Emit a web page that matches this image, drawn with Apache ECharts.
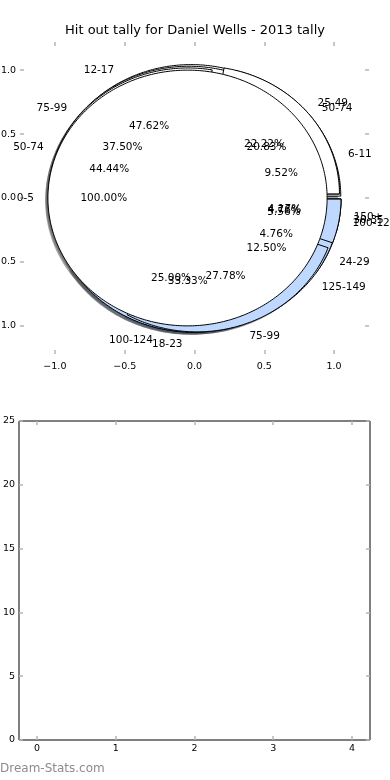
<!DOCTYPE html>
<html><head><meta charset="utf-8">
<script src="https://cdn.jsdelivr.net/npm/echarts@6/dist/echarts.min.js"></script>
<style>html,body{margin:0;padding:0;background:#fff}#c{width:390px;height:780px}</style>
</head><body><div id="c"></div>
<script>
const titleText = 'Hit out tally for Daniel Wells - 2013 tally';
const catsA = ['6-11','12-17','18-23','24-29','30-35'];
const valsA = [2,10,7,1,1];
const catsB = ['50-74','75-99','100-124','125-149','150+'];
const valsB = [5,9,6,3,1];
const catsC = ['25-49','50-74','75-99','100-124'];
const valsC = [4,8,5,1];
const catsD = ['0-5'];
const valsD = [1];
const pieTicks = [-1,-0.5,0,0.5,1];
const barXTicks = [0,1,2,3,4];
const barYTicks = [0,5,10,15,20,25];
const watermark = 'Dream-Stats.com';

const sliceColors = ['#ffffff','#ffffff','#bfd8ff','#bfd8ff','#ffffff'];
const EXPLODE = 0.05, R = 1, LABEL_D = 1.1, PCT_D = 0.6;
const FONT = 'DejaVu Sans';
const TICK_FS = 9.5;

const pies = [[catsA,valsA],[catsB,valsB],[catsC,valsC],[catsD,valsD]];
function geom(p, s) {
  const vals = pies[p][1];
  const tot = vals.reduce((a,b)=>a+b,0);
  let c = 0; for (let i=0;i<s;i++) c += vals[i];
  const t1 = c/tot*360, t2 = (c+vals[s])/tot*360;
  const mid = (t1+t2)/2*Math.PI/180;
  return {t1,t2,mid,frac:vals[s]/tot, cx: EXPLODE*Math.cos(mid), cy: EXPLODE*Math.sin(mid)};
}
const sliceData = [];
pies.forEach((pc,p)=>pc[1].forEach((v,s)=>sliceData.push([p,s])));

function wedgePoints(api, g, ox, oy) {
  const pts = [];
  const full = g.t2 - g.t1 >= 359.999;
  if (!full) pts.push(api.coord([g.cx+ox, g.cy+oy]));
  const n = Math.max(2, Math.ceil(g.t2-g.t1));
  for (let i=0;i<=n;i++){
    const a = (g.t1 + (g.t2-g.t1)*i/n)*Math.PI/180;
    pts.push(api.coord([g.cx+ox+R*Math.cos(a), g.cy+oy+R*Math.sin(a)]));
  }
  return pts;
}
function hexToRgb(h){return [parseInt(h.slice(1,3),16),parseInt(h.slice(3,5),16),parseInt(h.slice(5,7),16)];}
const fmt = v => (v<0?'\u2212':'') + Math.abs(v).toFixed(1);
const tickStyle = {color:'#b5b5b5', width:1.5};
const noLine = {show:false, onZero:false};

const chart = echarts.init(document.getElementById('c'), null, {renderer:'canvas'});
const option = {
  animation:false,
  backgroundColor:'#fff',
  graphic:[
    {type:'text', left:'center', top:24, style:{text:titleText, fill:'#000', fontSize:13, fontFamily:FONT}},
    {type:'text', left:0, top:763, style:{text:watermark, fill:'#8c8c8c', fontSize:12, fontFamily:FONT}}
  ],
  grid:[
    {left:20, top:42, width:349, height:312, show:false, containLabel:false, outerBoundsMode:'none'},
    {left:19, top:421, width:351, height:319, show:true, borderColor:'#000', borderWidth:1, backgroundColor:'#fff', containLabel:false, outerBoundsMode:'none'}
  ],
  xAxis:[
    {gridIndex:0, type:'value', min:-1.25, max:1.25, position:'bottom', axisLine:noLine, splitLine:{show:false},
     axisTick:{show:true, inside:true, length:4, lineStyle:tickStyle, customValues:pieTicks},
     axisLabel:{customValues:pieTicks, formatter:fmt, color:'#000', fontSize:TICK_FS, fontFamily:FONT, margin:8}},
    {gridIndex:0, type:'value', min:-1.25, max:1.25, position:'top', axisLine:noLine, splitLine:{show:false},
     axisTick:{show:true, inside:true, length:4, lineStyle:tickStyle, customValues:pieTicks}, axisLabel:{show:false}},
    {gridIndex:1, type:'value', min:-0.23, max:4.23, position:'bottom', axisLine:noLine, splitLine:{show:false},
     axisTick:{show:true, inside:true, length:4, lineStyle:tickStyle, customValues:barXTicks},
     axisLabel:{customValues:barXTicks, color:'#000', fontSize:TICK_FS, fontFamily:FONT, margin:4}},
    {gridIndex:1, type:'value', min:-0.23, max:4.23, position:'top', axisLine:noLine, splitLine:{show:false},
     axisTick:{show:true, inside:true, length:4, lineStyle:tickStyle, customValues:barXTicks}, axisLabel:{show:false}}
  ],
  yAxis:[
    {gridIndex:0, type:'value', min:-1.22, max:1.22, position:'left', axisLine:noLine, splitLine:{show:false},
     axisTick:{show:true, inside:true, length:4, lineStyle:tickStyle, customValues:pieTicks},
     axisLabel:{customValues:pieTicks, formatter:fmt, color:'#000', fontSize:TICK_FS, fontFamily:FONT, margin:4}},
    {gridIndex:0, type:'value', min:-1.22, max:1.22, position:'right', axisLine:noLine, splitLine:{show:false},
     axisTick:{show:true, inside:true, length:4, lineStyle:tickStyle, customValues:pieTicks}, axisLabel:{show:false}},
    {gridIndex:1, type:'value', min:0, max:25, interval:5, position:'left', axisLine:noLine, splitLine:{show:false},
     axisTick:{show:true, inside:true, length:4, lineStyle:tickStyle},
     axisLabel:{color:'#000', fontSize:TICK_FS, fontFamily:FONT, margin:4}},
    {gridIndex:1, type:'value', min:0, max:25, interval:5, position:'right', axisLine:noLine, splitLine:{show:false},
     axisTick:{show:true, inside:true, length:4, lineStyle:tickStyle}, axisLabel:{show:false}}
  ],
  series:[
    {type:'custom', name:'shadow', xAxisIndex:0, yAxisIndex:0, z:1, silent:true, data:sliceData,
     renderItem:(params, api)=>{
       const p = api.value(0), s = api.value(1);
       const g = geom(p,s);
       const rgb = hexToRgb(sliceColors[s]).map(v=>Math.round(v*0.3));
       return {type:'polygon', shape:{points:wedgePoints(api,g,-0.02,-0.02)},
               style:{fill:`rgba(${rgb[0]},${rgb[1]},${rgb[2]},0.5)`, stroke:null}};
     }},
    {type:'custom', name:'wedges', xAxisIndex:0, yAxisIndex:0, z:2, silent:true, data:sliceData,
     renderItem:(params, api)=>{
       const p = api.value(0), s = api.value(1);
       const g = geom(p,s);
       return {type:'polygon', shape:{points:wedgePoints(api,g,0,0)},
               style:{fill:sliceColors[s], stroke:'#000', lineWidth:1}};
     }},
    {type:'custom', name:'texts', xAxisIndex:0, yAxisIndex:0, z:3, silent:true, data:sliceData,
     renderItem:(params, api)=>{
       const p = api.value(0), s = api.value(1);
       const g = geom(p,s);
       const lx = g.cx + LABEL_D*Math.cos(g.mid), ly = g.cy + LABEL_D*Math.sin(g.mid);
       const px = g.cx + PCT_D*Math.cos(g.mid), py = g.cy + PCT_D*Math.sin(g.mid);
       const lp = api.coord([lx,ly]), pp = api.coord([px,py]);
       return {type:'group', children:[
         {type:'text', x:lp[0], y:lp[1], style:{text:pies[p][0][s], fill:'#000', fontSize:10.5, fontFamily:FONT,
           align: lx>0?'left':'right', verticalAlign:'middle'}},
         {type:'text', x:pp[0], y:pp[1], style:{text:(g.frac*100).toFixed(2)+'%', fill:'#000', fontSize:10.5, fontFamily:FONT,
           align:'center', verticalAlign:'middle'}}
       ]};
     }}
  ]
};
chart.setOption(option);
</script></body></html>
